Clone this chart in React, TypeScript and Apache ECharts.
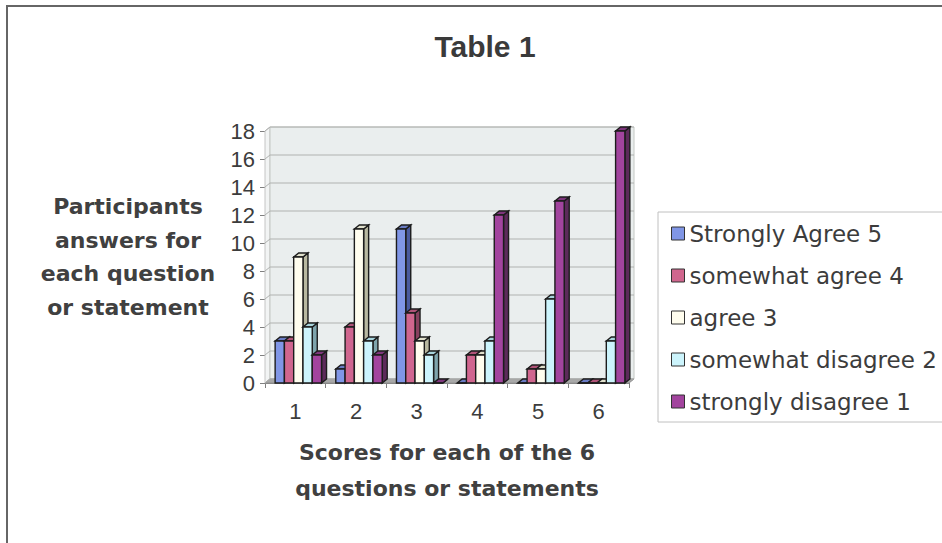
import React, { useEffect, useRef } from "react";
import * as echarts from "echarts";

const categories = ["1", "2", "3", "4", "5", "6"];
const seriesNames = [
  "Strongly Agree 5",
  "somewhat agree 4",
  "agree 3",
  "somewhat disagree 2",
  "strongly disagree 1",
];
const stronglyAgree = [3, 1, 11, 0, 0, 0];
const somewhatAgree = [3, 4, 5, 2, 1, 0];
const agree = [9, 11, 3, 2, 1, 0];
const somewhatDisagree = [4, 3, 2, 3, 6, 3];
const stronglyDisagree = [2, 2, 0, 12, 13, 18];
const yTicks = [0, 2, 4, 6, 8, 10, 12, 14, 16, 18];

const seriesValues = [stronglyAgree, somewhatAgree, agree, somewhatDisagree, stronglyDisagree];
const frontColors = ["#8096e6", "#d0668e", "#fffdee", "#ccf4fc", "#a2449e"];
const sideColors = ["#4a5a9e", "#87405e", "#b8b8a0", "#7ea4ac", "#5c2a5a"];
const topColors = ["#6a7cc4", "#b05478", "#e0e0cc", "#a8d4dc", "#7e367c"];

const DX = 5;
const DY = 4;

export default function App() {
  const ref = useRef<HTMLDivElement>(null);
  useEffect(() => {
    if (!ref.current) return;
    const chart = echarts.init(ref.current, null, { renderer: "svg" });

    const wallSeries: any = {
      type: "custom",
      name: "wall",
      z: 1,
      silent: true,
      data: yTicks.map((t) => [0, t]),
      encode: { x: 0, y: 1 },
      renderItem: (params: any, api: any) => {
        const cs = params.coordSys;
        const left = cs.x;
        const right = cs.x + cs.width;
        const top = cs.y;
        const bottom = cs.y + cs.height;
        const y = api.coord([0, api.value(1)])[1];
        const children: any[] = [];
        if (params.dataIndex === 0) {
          children.push({
            type: "polygon",
            shape: { points: [[left, top], [left + DX, top - DY], [left + DX, bottom - DY], [left, bottom]] },
            style: { fill: "#f2f4f4", stroke: "#c4c4c4", lineWidth: 1 },
          });
          children.push({
            type: "rect",
            shape: { x: left + DX, y: top - DY, width: cs.width, height: cs.height },
            style: { fill: "#eaeeee", stroke: "#c4c8c4", lineWidth: 1 },
          });
          children.push({
            type: "polygon",
            shape: { points: [[left, bottom], [left + DX, bottom - DY], [right + DX, bottom - DY], [right, bottom]] },
            style: { fill: "#a8a8a8", stroke: "#909090", lineWidth: 1 },
          });
        }
        children.push({
          type: "polyline",
          shape: { points: [[left, y], [left + DX, y - DY], [right + DX, y - DY]] },
          style: { stroke: "#b0b2b0", lineWidth: 1, fill: null },
        });
        return { type: "group", children };
      },
    };

    const barSeries = seriesValues.map((vals, si) => ({
      type: "custom",
      name: seriesNames[si],
      z: 2,
      itemStyle: { color: frontColors[si], borderColor: "#333", borderWidth: 1 },
      data: vals.map((v, i) => [i, v]),
      encode: { x: 0, y: 1 },
      renderItem: (params: any, api: any) => {
        const idx = api.value(0);
        const val = api.value(1);
        const center = api.coord([idx, val]);
        const base = api.coord([idx, 0]);
        const catW = api.size([1, 0])[0];
        const barW = catW * 0.153;
        const x0 = center[0] - 2.5 * barW + si * barW + 3;
        const yTop = center[1];
        const yBase = base[1];
        const stroke = "#1c1c1c";
        const lw = 1.4;
        return {
          type: "group",
          children: [
            {
              type: "polygon",
              shape: {
                points: [
                  [x0 + barW, yTop],
                  [x0 + barW + DX, yTop - DY],
                  [x0 + barW + DX, yBase - DY],
                  [x0 + barW, yBase],
                ],
              },
              style: { fill: sideColors[si], stroke, lineWidth: lw },
            },
            {
              type: "polygon",
              shape: {
                points: [
                  [x0, yTop],
                  [x0 + DX, yTop - DY],
                  [x0 + barW + DX, yTop - DY],
                  [x0 + barW, yTop],
                ],
              },
              style: { fill: topColors[si], stroke, lineWidth: lw },
            },
            {
              type: "rect",
              shape: { x: x0, y: yTop, width: barW, height: Math.max(yBase - yTop, 0) },
              style: { fill: frontColors[si], stroke, lineWidth: lw },
            },
          ],
        };
      },
    }));

    chart.setOption({
      animation: false,
      backgroundColor: "#ffffff",
      title: {
        text: "Table 1",
        left: 480,
        top: 26,
        textAlign: "center",
        textStyle: { fontFamily: "Liberation Sans, Arial", fontSize: 30, fontWeight: "bold", color: "#3a3a3a" },
      },
      grid: { left: 265, top: 131, width: 364, height: 252 },
      xAxis: {
        type: "category",
        data: categories,
        axisLine: { show: true, lineStyle: { color: "#808080", width: 1 } },
        axisTick: { show: true, length: 5, lineStyle: { color: "#808080" } },
        axisLabel: { margin: 17, fontFamily: "Liberation Sans, Arial", fontSize: 22, color: "#3c3c3c" },
        splitLine: { show: false },
      },
      yAxis: {
        type: "value",
        min: 0,
        max: 18,
        interval: 2,
        axisLine: { show: true, lineStyle: { color: "#808080", width: 1 } },
        axisTick: { show: true, length: 5, lineStyle: { color: "#808080" } },
        axisLabel: { margin: 10, fontFamily: "Liberation Sans, Arial", fontSize: 22, color: "#3c3c3c" },
        splitLine: { show: false },
      },
      legend: {
        data: seriesNames,
        orient: "vertical",
        left: 671,
        top: 222,
        padding: 0,
        itemWidth: 13,
        itemHeight: 13,
        itemGap: 19,
        icon: "rect",
        itemStyle: { borderColor: "#333", borderWidth: 1 },
        textStyle: { fontFamily: "DejaVu Sans", fontSize: 23, color: "#3c3c3c" },
      },
      graphic: [
        {
          type: "rect",
          silent: true,
          shape: { x: 7, y: 6, width: 960, height: 560 },
          style: { fill: null, stroke: "#666", lineWidth: 2 },
        },
        {
          type: "rect",
          silent: true,
          shape: { x: 658, y: 212, width: 300, height: 210 },
          style: { fill: null, stroke: "#c0c0c0", lineWidth: 1 },
        },
        {
          type: "text",
          silent: true,
          x: 128,
          y: 257,
          style: {
            text: "Participants\nanswers for\neach question\nor statement",
            font: "bold 22px 'DejaVu Sans'",
            fill: "#404040",
            lineHeight: 33.5,
            textAlign: "center",
            textVerticalAlign: "middle",
          },
        },
        {
          type: "text",
          silent: true,
          x: 447,
          y: 470,
          style: {
            text: "Scores for each of the 6\nquestions or statements",
            font: "bold 22px 'DejaVu Sans'",
            fill: "#404040",
            lineHeight: 36,
            textAlign: "center",
            textVerticalAlign: "middle",
          },
        },
      ],
      series: [wallSeries, ...barSeries],
    });

    return () => chart.dispose();
  }, []);

  return (
    <div
      ref={ref}
      style={{ position: "fixed", left: 0, top: 0, width: 942, height: 543 }}
    />
  );
}
